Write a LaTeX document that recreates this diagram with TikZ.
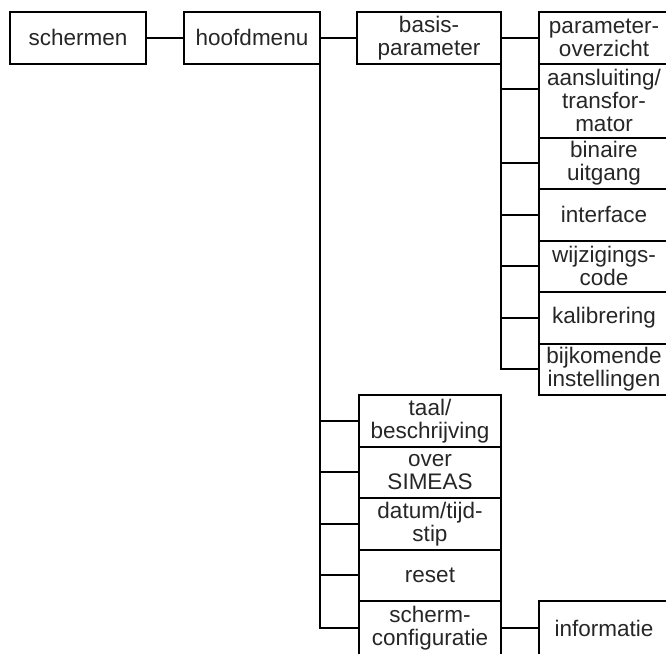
\documentclass[tikz,border=0pt]{standalone}
\usepackage{fontspec}
\setmainfont{Liberation Sans}
\usetikzlibrary{positioning}

\begin{document}
\begin{tikzpicture}[
    x=1pt, y=-1pt,
    font=\fontsize{22.5}{23}\selectfont,
    box/.style={
        draw,
        line width=2pt,
        outer sep=0pt,
        inner sep=1pt,
        minimum height=51.5pt,
        align=center,
        text=black!85
    },
    topbox/.style={box, minimum width=136pt},
    midbox/.style={box, minimum width=144pt},
    subbox/.style={box, minimum width=130pt},
    menubox/.style={box, minimum width=142pt},
    link/.style={line width=2pt}
]
\useasboundingbox (0,0) rectangle (666,653);

\node[topbox, anchor=north west] (schermen) at (10,12) {schermen};
\node[topbox, right=38pt of schermen] (hoofdmenu) {hoofdmenu};
\node[midbox, right=37pt of hoofdmenu] (basis) {basis-\\parameter};

% basisparameter column
\node[subbox, right=38pt of basis] (overzicht) {parameter-\\overzicht};
\node[subbox, below=0pt of overzicht, minimum height=74pt] (aansluiting) {aansluiting/\\transfor-\\mator};
\node[subbox, below=0pt of aansluiting] (binaire) {binaire\\uitgang};
\node[subbox, below=0pt of binaire] (interface) {interface};
\node[subbox, below=0pt of interface] (wijziging) {wijzigings-\\code};
\node[subbox, below=0pt of wijziging] (kalibrering) {kalibrering};
\node[subbox, below=0pt of kalibrering] (bijkomend) {bijkomende\\instellingen};

% hoofdmenu column
\node[menubox, anchor=north east] (taal) at (basis.east |- bijkomend.south) {taal/\\beschrijving};
\node[menubox, below=0pt of taal] (over) {over\\SIMEAS};
\node[menubox, below=0pt of over] (datum) {datum/tijd-\\stip};
\node[menubox, below=0pt of datum] (reset) {reset};
\node[menubox, below=0pt of reset, minimum height=54pt] (scherm) {scherm-\\configuratie};
\node[subbox, right=38pt of scherm, minimum height=54pt] (informatie) {informatie};

% top row
\draw[link] (schermen) -- (hoofdmenu);
\draw[link] (hoofdmenu) -- (basis);
\draw[link] (basis) -- (overzicht);

% basisparameter branches
\draw[link] (basis.south east) |- (bijkomend.west);
\draw[link] (basis.east |- 0,89) -- (aansluiting.west |- 0,89);
\draw[link] (basis.east |- binaire.west) -- (binaire.west);
\draw[link] (basis.east |- interface.west) -- (interface.west);
\draw[link] (basis.east |- wijziging.west) -- (wijziging.west);
\draw[link] (basis.east |- kalibrering.west) -- (kalibrering.west);

% hoofdmenu branches
\draw[link] (hoofdmenu.south east) |- (scherm.west);
\draw[link] (hoofdmenu.east |- taal.west) -- (taal.west);
\draw[link] (hoofdmenu.east |- over.west) -- (over.west);
\draw[link] (hoofdmenu.east |- datum.west) -- (datum.west);
\draw[link] (hoofdmenu.east |- reset.west) -- (reset.west);
\draw[link] (scherm) -- (informatie);

\end{tikzpicture}
\end{document}
